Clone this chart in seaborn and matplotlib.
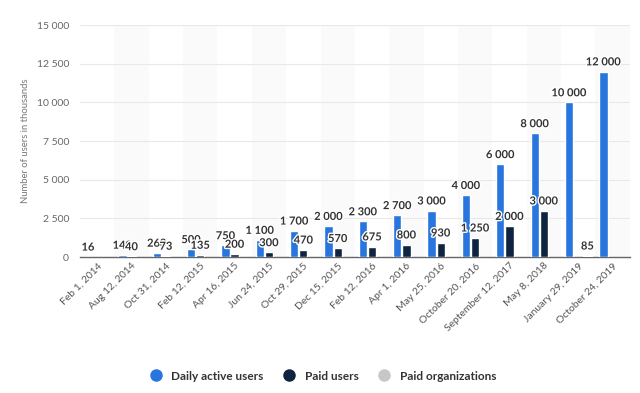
import numpy as np
import pandas as pd
import matplotlib
matplotlib.use("Agg")
import matplotlib.pyplot as plt
import matplotlib.patheffects as pe
from matplotlib.ticker import FuncFormatter
from matplotlib.lines import Line2D
import seaborn as sns

dates = ["Feb 1, 2014", "Aug 12, 2014", "Oct 31, 2014", "Feb 12, 2015", "Apr 16, 2015",
         "Jun 24, 2015", "Oct 29, 2015", "Dec 15, 2015", "Feb 12, 2016", "Apr 1, 2016",
         "May 25, 2016", "October 20, 2016", "September 12, 2017", "May 8, 2018",
         "January 29, 2019", "October 24, 2019"]
daily_active = [16, 140, 268, 500, 750, 1100, 1700, 2000, 2300, 2700, 3000, 4000, 6000, 8000, 10000, 12000]
paid_users = [np.nan, 40, 73, 135, 200, 300, 470, 570, 675, 800, 930, 1250, 2000, 3000, np.nan, np.nan]
paid_orgs = [np.nan] * 14 + [85, np.nan]
series = ["Daily active users", "Paid users", "Paid organizations"]
colors = ["#2876dd", "#0f2440", "#c7c7c7"]
y_ticks = [0, 2500, 5000, 7500, 10000, 12500, 15000]

rows = []
for name, vals in zip(series, [daily_active, paid_users, paid_orgs]):
    for d, v in zip(dates, vals):
        rows.append({"date": d, "series": name, "value": v})
df = pd.DataFrame(rows).dropna()

sns.set_theme(style="white")
plt.rcParams['font.family'] = ['Lato', 'DejaVu Sans']

fig = plt.figure(figsize=(6.4, 3.93), dpi=100)
ax = fig.add_axes([0.125, 0.346, 0.859, 0.59])

for i in range(1, len(dates), 2):
    ax.axvspan(i - 0.5, i + 0.5, color="#fafafa", zorder=0, lw=0)

sns.barplot(data=df, x="date", y="value", hue="series", order=dates, hue_order=series,
            palette=colors, saturation=1, width=0.8, gap=0.1, ax=ax, legend=False, zorder=3)

fmt = lambda v: f"{int(round(v)):,}".replace(",", " ")
for cont in ax.containers:
    ax.bar_label(cont, labels=[fmt(v) for v in cont.datavalues], padding=3,
                 fontsize=8, fontweight="bold", color="#333333", zorder=5,
                 path_effects=[pe.withStroke(linewidth=2, foreground="white")])

ax.set_xlim(-0.5, len(dates) - 0.5)
ax.set_ylim(0, 15000)
ax.set_yticks(y_ticks)
ax.yaxis.set_major_formatter(FuncFormatter(lambda v, p: fmt(v)))
ax.grid(axis="y", color="#e8e8e8", lw=0.8, zorder=1)
ax.set_axisbelow(True)
for s in ["top", "right", "left"]:
    ax.spines[s].set_visible(False)
ax.spines["bottom"].set_color("#666666")
ax.spines["bottom"].set_linewidth(1)
ax.tick_params(axis="y", labelsize=7.5, colors="#666666", length=0, pad=8)
ax.tick_params(axis="x", labelsize=7.5, colors="#555555", length=0, pad=3)
plt.setp(ax.get_xticklabels(), rotation=45, ha="right", rotation_mode="anchor")
ax.set_xlabel("")
ax.set_ylabel("Number of users in thousands", fontsize=6.8, color="#777777", labelpad=5)

handles = [Line2D([], [], marker="o", ls="", markersize=8, color=c) for c in colors]
fig.legend(handles, series, loc="center", bbox_to_anchor=(0.5, 0.043), ncol=3,
           frameon=False, handletextpad=0.3, columnspacing=1.2,
           prop={"weight": "bold", "size": 8.5})
for t in fig.legends[0].get_texts():
    t.set_color("#333333")

fig.savefig("out.png", dpi=100)
